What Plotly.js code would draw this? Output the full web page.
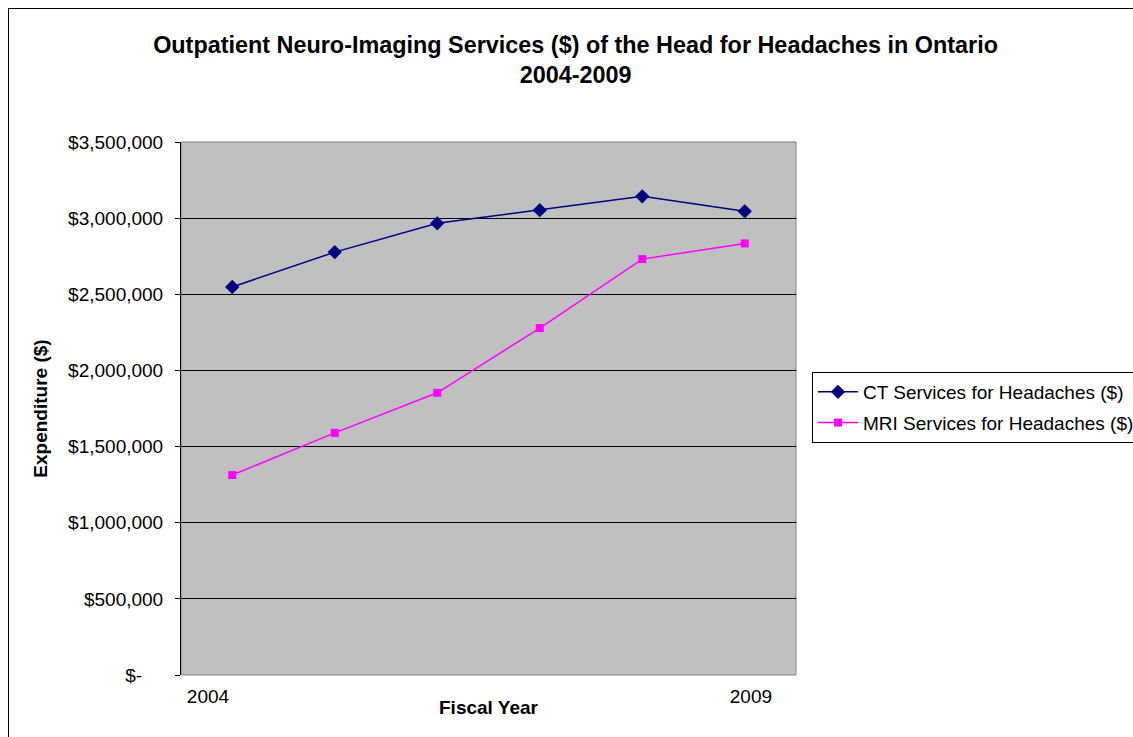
<!DOCTYPE html>
<html>
<head>
<meta charset="utf-8">
<script src="https://cdn.plot.ly/plotly-3.0.1.min.js"></script>
<style>
  html, body { margin: 0; padding: 0; background: #fff; }
  #wrap { position: relative; width: 1133px; height: 737px; overflow: hidden; }
  #chart { position: absolute; left: 0; top: 0; width: 1133px; height: 737px; }
  #frame { position: absolute; left: 8px; top: 8px; width: 1200px; height: 800px; border: 1px solid #000; pointer-events: none; }
</style>
</head>
<body>
<div id="wrap">
  <div id="chart"></div>
  <div id="frame"></div>
</div>
<script>
const years = ["2004", "2005", "2006", "2007", "2008", "2009"];
const ctValues = [2548000, 2777000, 2966000, 3052000, 3143000, 3045000];
const mriValues = [1313000, 1590000, 1853000, 2278000, 2731000, 2834000];
const xTickText = ["2004", "2009"];
const yTickVals = [0, 500000, 1000000, 1500000, 2000000, 2500000, 3000000, 3500000];
const yTickText = ["$-\u00a0\u00a0\u00a0\u00a0", "$500,000", "$1,000,000", "$1,500,000", "$2,000,000", "$2,500,000", "$3,000,000", "$3,500,000"];

const font = "Liberation Sans, Arial, sans-serif";

const traces = [
  {
    x: years, y: ctValues, name: "CT Services for Headaches ($)",
    type: "scatter", mode: "lines+markers", legendgroup: "ct",
    line: { color: "#000080", width: 1.5 },
    marker: { symbol: "diamond", size: 11, color: "#000080" }
  },
  {
    x: years, y: mriValues, name: "MRI Services for Headaches ($)",
    type: "scatter", mode: "lines+markers", legendgroup: "mri",
    line: { color: "#FF00FF", width: 1.5 },
    marker: { symbol: "square", size: 8, color: "#FF00FF" }
  }
];

const layout = {
  width: 1133, height: 737,
  paper_bgcolor: "rgba(0,0,0,0)",
  plot_bgcolor: "#C0C0C0",
  margin: { l: 181, r: 337, t: 142, b: 62, pad: 0 },
  font: { family: font, size: 19, color: "#000" },
  showlegend: true,
  title: {
    text: "<b>Outpatient Neuro-Imaging Services ($) of the Head for Headaches in Ontario<br>2004-2009</b>",
    font: { family: font, size: 23.4, color: "#000" },
    x: 0.508, xanchor: "center",
    y: 1 - 53 / 737, yanchor: "top", yref: "container"
  },
  xaxis: {
    type: "category",
    categoryorder: "array", categoryarray: years,
    range: [-0.5, 5.5],
    tickmode: "array",
    tickvals: [-0.237, 5.06], ticktext: xTickText,
    ticks: "", showgrid: false, zeroline: false,
    showline: false,
    ticklabelstandoff: 8,
    tickfont: { family: font, size: 19 },
    automargin: false
  },
  yaxis: {
    range: [0, 3500000],
    tickvals: yTickVals, ticktext: yTickText,
    ticks: "outside", ticklen: 5, tickcolor: "#000",
    showgrid: true, gridcolor: "#000", gridwidth: 1,
    zeroline: false,
    showline: true, linecolor: "#000", linewidth: 1,
    ticklabelstandoff: 8,
    tickfont: { family: font, size: 19 },
    title: { text: "<b>Expenditure ($)</b>", font: { family: font, size: 19 }, standoff: 15 },
    automargin: false
  },
  annotations: [
    { text: "<b>Fiscal Year</b>", xref: "paper", yref: "paper", x: 0.5, y: -32 / 533,
      xanchor: "center", yanchor: "middle", showarrow: false,
      font: { family: font, size: 19, color: "#000" } }
  ],
  legend: {
    xref: "container", yref: "container",
    x: 812 / 1133, xanchor: "left",
    y: 1 - 372 / 737, yanchor: "top",
    bgcolor: "#fff", bordercolor: "#000", borderwidth: 1,
    font: { family: font, size: 19, color: "#000" },
    itemwidth: 40,
    tracegroupgap: 3
  },
  shapes: [
    { type: "rect", xref: "paper", yref: "paper", x0: 0, x1: 1, y0: 0, y1: 1,
      line: { color: "#808080", width: 1 }, fillcolor: "rgba(0,0,0,0)", layer: "below" }
  ]
};

Plotly.newPlot("chart", traces, layout, { displayModeBar: false, staticPlot: true });
</script>
</body>
</html>
